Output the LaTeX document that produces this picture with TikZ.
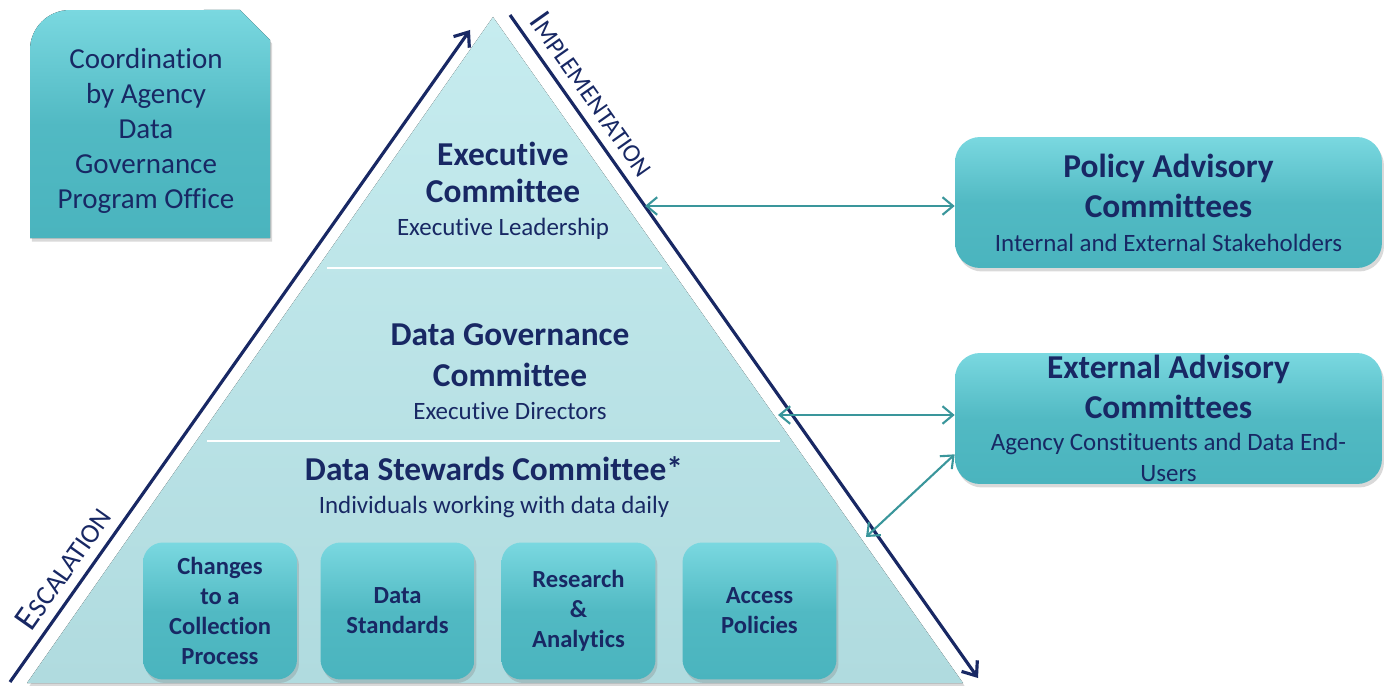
\documentclass[tikz,border=0pt]{standalone}
\usepackage{fontspec}
\setmainfont[Ligatures=NoCommon]{Carlito}
\usetikzlibrary{arrows.meta, shadows, calc}
\definecolor{navy}{RGB}{24,40,100}
\definecolor{tealbox}{RGB}{74,180,190}
\definecolor{tealtop}{RGB}{122,216,224}
\definecolor{pyrtop}{RGB}{198,236,239}
\definecolor{pyrbot}{RGB}{176,219,223}
\definecolor{link}{RGB}{58,150,155}

\tikzset{
  every node/.style={text=navy},
  softshadow/.style={drop shadow={shadow xshift=0.04cm, shadow yshift=-0.07cm, opacity=0.3}},
  tealfill/.style={top color=tealtop, bottom color=tealbox, middle color=tealbox!85!tealtop},
  bigbox/.style={tealfill, softshadow, rounded corners=0.5cm, minimum width=8.54cm,
    minimum height=2.62cm, inner ysep=0pt, align=center, font=\fontsize{19}{23}\selectfont\bfseries},
  taskbox/.style={tealfill, softshadow, rounded corners=0.4cm, minimum width=3.08cm,
    minimum height=2.74cm, align=center, font=\fontsize{14}{17}\selectfont\bfseries},
  tierhead/.style={align=center, font=\fontsize{19}{21}\selectfont\bfseries},
  tierline/.style={white, line width=1.6pt},
  flow/.style={navy, line width=1.8pt, -{Straight Barb[length=7pt, width=11pt, line width=1.8pt]}},
  linkarrow/.style={link, line width=1.2pt,
    {Straight Barb[length=6pt, width=10pt]}-{Straight Barb[length=6pt, width=10pt]}}
}
\newcommand{\subline}[1]{{\mdseries\fontsize{14.2}{17}\selectfont #1}}

\begin{document}
\begin{tikzpicture}[x=0.02cm, y=-0.02cm]
    \useasboundingbox (0,0) rectangle (1390,686);

    % pyramid
    \coordinate (apex) at (493,17);
    \coordinate (bl) at (27,683);
    \coordinate (br) at (963,683);
    \fill[top color=pyrtop, bottom color=pyrbot, softshadow] (apex) -- (br) -- (bl) -- cycle;
    \draw[tierline] (327,268) -- (662,268);
    \draw[tierline] (207,441) -- (780,441);

    % escalation / implementation
    \coordinate (escfrom) at (10,682);
    \coordinate (escto) at (470,30);
    \coordinate (impfrom) at (510,15);
    \coordinate (impto) at (978,678);
    \draw[flow] (escfrom) -- (escto)
        node[pos=0.155, sloped, above=2pt] (esc) {{\fontsize{20}{20}\selectfont E}{\fontsize{15.5}{15.5}\selectfont SCALATION}};
    \draw[flow] (impfrom) -- (impto)
        node[pos=0.138, sloped, above=2pt] (imp) {{\fontsize{19.5}{19.5}\selectfont I}{\fontsize{14.5}{14.5}\selectfont MPLEMENTATION}};

    % tiers
    \node[tierhead] (exec) at (503,191) {Executive\\Committee\\[-2pt]\subline{Executive Leadership}};
    \node[tierhead] (dgc) at (510,372) {Data Governance\\[2pt]Committee\\[-2pt]\subline{Executive Directors}};
    \node[tierhead] (dsc) at (494,487) {Data Stewards Committee*\\[-2pt]\subline{Individuals working with data daily}};

    % task boxes
    \node[taskbox] (changes) at (220,611) {Changes\\to a\\Collection\\Process};
    \node[taskbox] (standards) at (397.5,611) {Data\\Standards};
    \node[taskbox] (research) at (578.5,611) {Research\\\&\\Analytics};
    \node[taskbox] (access) at (759.5,611) {Access\\Policies};

    % coordination office
    \fill[tealfill, softshadow] (30,238) -- (30,50) arc[start angle=180, end angle=90, radius=0.8cm]
        -- (240,10) -- (270,40) -- (270,238) -- cycle;
    \node[align=center, font=\fontsize{16.5}{20}\selectfont] (coord) at (146,131)
        {Coordination\\by Agency\\Data\\Governance\\Program Office};

    % advisory committees
    \node[bigbox] (policy) at (1168.5,202.5) {Policy Advisory\\Committees\\[-4pt]\subline{Internal and External Stakeholders}};
    \node[bigbox] (external) at (1168.5,418.5) {External Advisory\\Committees\\[-5pt]\subline{Agency Constituents and Data End-}\\[-5pt]\subline{Users}};

    % links
    \coordinate (execedge) at (645,206);
    \coordinate (dgcedge) at (778,415);
    \coordinate (dscedge) at (866,537);
    \draw[linkarrow] (execedge) -- (execedge -| policy.west);
    \draw[linkarrow] (dgcedge) -- (dgcedge -| external.west);
    \draw[linkarrow] (dscedge) -- ($(external.south west)+(0,-30)$);

\end{tikzpicture}
\end{document}
